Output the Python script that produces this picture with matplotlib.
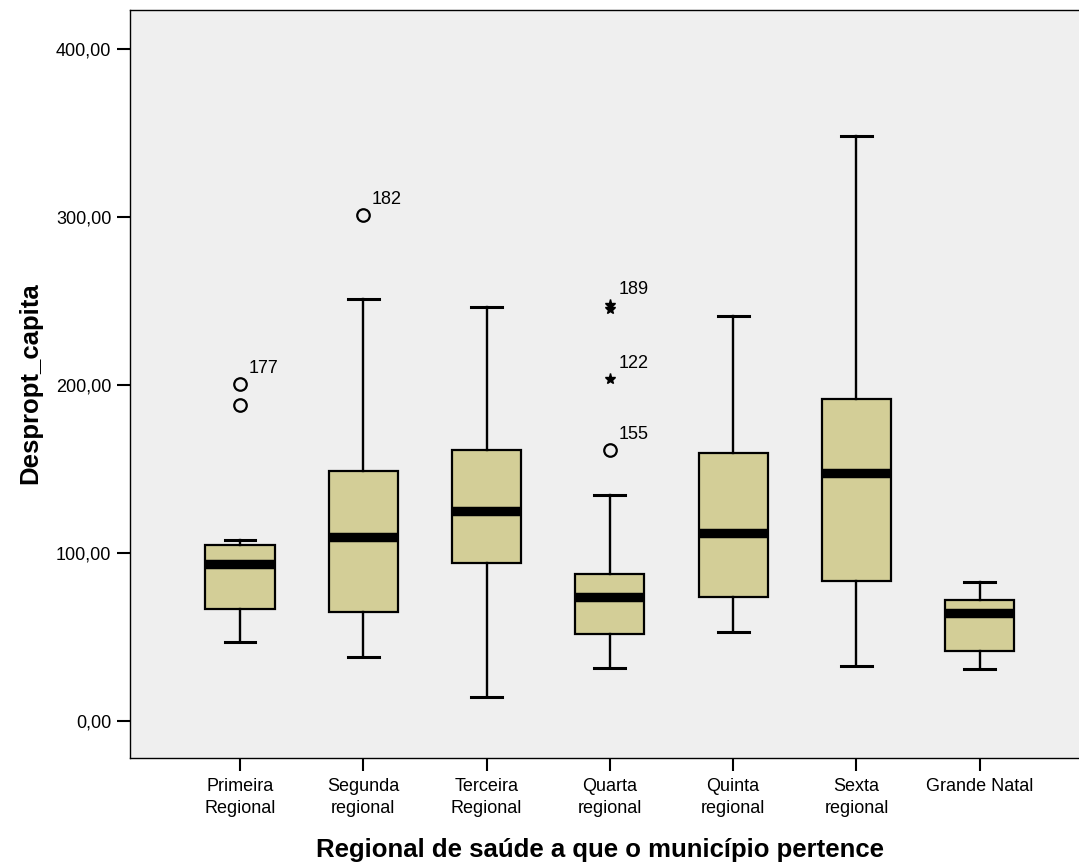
import numpy as np
import matplotlib
matplotlib.use("Agg")
import matplotlib.pyplot as plt

plt.rcParams['font.family'] = ['Liberation Sans', 'DejaVu Sans']

regionais = ["Primeira\nRegional", "Segunda\nregional", "Terceira\nRegional",
             "Quarta\nregional", "Quinta\nregional", "Sexta\nregional", "Grande Natal"]
whislo = [46.7, 38.1, 14.2, 31.2, 52.8, 32.6, 31.0]
q1 = [66.3, 64.9, 93.9, 51.9, 73.7, 83.2, 41.6]
med = [93.1, 109.4, 124.8, 73.7, 111.9, 147.2, 64.3]
q3 = [104.6, 148.6, 161.4, 87.6, 159.4, 191.3, 71.9]
whishi = [107.8, 250.7, 246.0, 134.6, 241.0, 348.2, 82.6]

# outliers (circulos) e extremos (asteriscos)
out_grupo = [0, 0, 1, 3]
out_valor = [200.4, 188.1, 300.9, 161.4]
out_rotulo = ["177", "", "182", "155"]
ext_grupo = [3, 3, 3]
ext_valor = [247.7, 244.9, 203.4]
ext_rotulo = ["189", "", "122"]

yticks = [0, 100, 200, 300, 400]

fig = plt.figure(figsize=(10.79, 8.66), dpi=100)
ax = fig.add_axes([130 / 1079, 1 - 757.5 / 866, 1 - 130 / 1079, (757.5 - 10) / 866])
ax.set_facecolor("#EFEFEF")

stats = []
for i in range(len(regionais)):
    fl = [v for g, v in zip(out_grupo, out_valor) if g == i]
    stats.append(dict(whislo=whislo[i], q1=q1[i], med=med[i], q3=q3[i],
                      whishi=whishi[i], fliers=fl))

pos = np.arange(len(regionais))
ax.bxp(stats, positions=pos, widths=0.56, patch_artist=True, showfliers=True,
       boxprops=dict(facecolor="#D3CE97", edgecolor="black", linewidth=1.6),
       medianprops=dict(color="black", linewidth=6.8, solid_capstyle="butt"),
       whiskerprops=dict(color="black", linewidth=1.7),
       capprops=dict(color="black", linewidth=2.2),
       capwidths=0.25,
       flierprops=dict(marker="o", markersize=9, markerfacecolor="none",
                       markeredgecolor="black", markeredgewidth=1.6, linestyle="none"))

ax.plot([pos[g] for g in ext_grupo], ext_valor, linestyle="none", marker="*",
        markersize=8, color="black")

for g, v, t in list(zip(out_grupo, out_valor, out_rotulo)) + list(zip(ext_grupo, ext_valor, ext_rotulo)):
    if t:
        ax.annotate(t, (pos[g], v), xytext=(6, 5), textcoords="offset points",
                    ha="left", va="bottom", fontsize=13)

ax.set_xlim(-0.892, 6.805)
ax.set_ylim(-21.9, 423.0)
ax.set_xticks(pos)
ax.set_xticklabels(regionais, fontsize=13, linespacing=1.4)
ax.set_yticks(yticks)
ax.set_yticklabels(["%d,00" % v for v in yticks], fontsize=13)
ax.tick_params(axis="both", length=9.5, width=1.5, color="black")
ax.tick_params(axis="x", pad=5)
ax.tick_params(axis="y", pad=4)

for s in ["left", "bottom", "top"]:
    ax.spines[s].set_linewidth(1.0)
    ax.spines[s].set_color("black")
ax.spines["right"].set_visible(False)

ax.set_ylabel("Despropt_capita", fontsize=18.5, fontweight="bold")
ax.set_xlabel("Regional de saúde a que o município pertence", fontsize=18.5, fontweight="bold")
ax.yaxis.set_label_coords((30 - 130) / (1079 - 130), (757.5 - 383) / (757.5 - 10))
ax.xaxis.set_label_coords((600 - 130) / (1079 - 130), -(850 - 757.5) / (757.5 - 10))
ax.xaxis.label.set_va("center")
ax.yaxis.label.set_va("center")

plt.savefig("out.png", dpi=100)
